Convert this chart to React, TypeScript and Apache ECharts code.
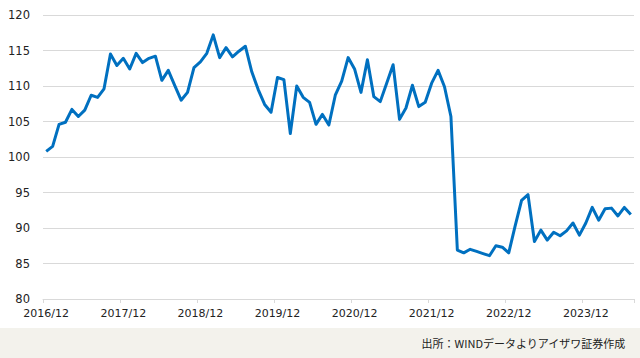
import React, { useEffect, useRef } from "react";
import * as echarts from "echarts";

const startYear = 2016;
const startMonth = 12;
const monthCount = 92;
const categories: string[] = [];
for (let i = 0; i < monthCount; i++) {
  const m0 = startMonth - 1 + i;
  const y = startYear + Math.floor(m0 / 12);
  const m = (m0 % 12) + 1;
  categories.push(`${y}/${m < 10 ? "0" + m : m}`);
}

const values: number[] = [
  100.8, 101.5, 104.6, 104.9, 106.7, 105.7, 106.6, 108.7, 108.4, 109.6,
  114.5, 112.9, 113.9, 112.4, 114.6, 113.3, 113.9, 114.2, 110.8, 112.2,
  110.1, 108.0, 109.1, 112.6, 113.4, 114.6, 117.2, 114.0, 115.4, 114.1,
  114.9, 115.6, 112.0, 109.5, 107.4, 106.3, 111.2, 110.9, 103.3, 110.0,
  108.4, 107.7, 104.6, 106.0, 104.5, 108.7, 110.7, 114.0, 112.4, 109.1,
  113.7, 108.5, 107.8, 110.4, 113.0, 105.3, 106.9, 110.1, 107.1, 107.7,
  110.4, 112.2, 109.9, 105.7, 86.9, 86.5, 87.0, 86.7, 86.4, 86.1,
  87.5, 87.3, 86.5, 90.3, 93.9, 94.7, 88.1, 89.7, 88.3, 89.4,
  88.9, 89.6, 90.7, 89.0, 90.7, 92.9, 91.1, 92.7, 92.8, 91.7,
  92.9, 91.9,
];

const yMin = 80;
const yMax = 120;
const yStep = 5;
const sourceText = "出所：WINDデータよりアイザワ証券作成";

export default function App() {
  const ref = useRef<HTMLDivElement>(null);
  useEffect(() => {
    if (!ref.current) return;
    const chart = echarts.init(ref.current, undefined, { renderer: "svg" });
    const font = "DejaVu Sans, Verdana, sans-serif";
    chart.setOption({
      animation: false,
      backgroundColor: "#ffffff",
      grid: { left: 43, right: 6, top: 15, bottom: 59, containLabel: false },
      xAxis: {
        type: "category",
        data: categories,
        boundaryGap: true,
        axisLine: { show: true, lineStyle: { color: "#d9d9d9", width: 1 } },
        axisTick: { show: true, interval: 11, length: 4, lineStyle: { color: "#d9d9d9" } },
        axisLabel: {
          interval: 11,
          color: "#222",
          fontSize: 11,
          fontFamily: font,
          margin: 9,
        },
        splitLine: { show: false },
      },
      yAxis: {
        type: "value",
        min: yMin,
        max: yMax,
        interval: yStep,
        axisLine: { show: false },
        axisTick: { show: false },
        axisLabel: { color: "#222", fontSize: 11.5, fontFamily: font, margin: 13 },
        splitLine: { lineStyle: { color: "#d9d9d9", width: 1 } },
      },
      series: [
        {
          type: "line",
          data: values,
          symbol: "none",
          lineStyle: { color: "#0070c0", width: 3, join: "round" },
          itemStyle: { color: "#0070c0" },
        },
      ],
      graphic: [
        {
          type: "rect",
          left: 0,
          top: 328,
          shape: { x: 0, y: 0, width: 640, height: 30 },
          style: { fill: "#f3f2ec" },
          silent: true,
        },
        {
          type: "text",
          right: 14,
          top: 337,
          style: {
            text: sourceText,
            fill: "#222",
            fontSize: 11,
            fontFamily: "Noto Sans CJK JP, sans-serif",
          },
        },
      ],
    });
    return () => chart.dispose();
  }, []);
  return (
    <div
      ref={ref}
      style={{ position: "fixed", left: 0, top: 0, width: 640, height: 358 }}
    />
  );
}
